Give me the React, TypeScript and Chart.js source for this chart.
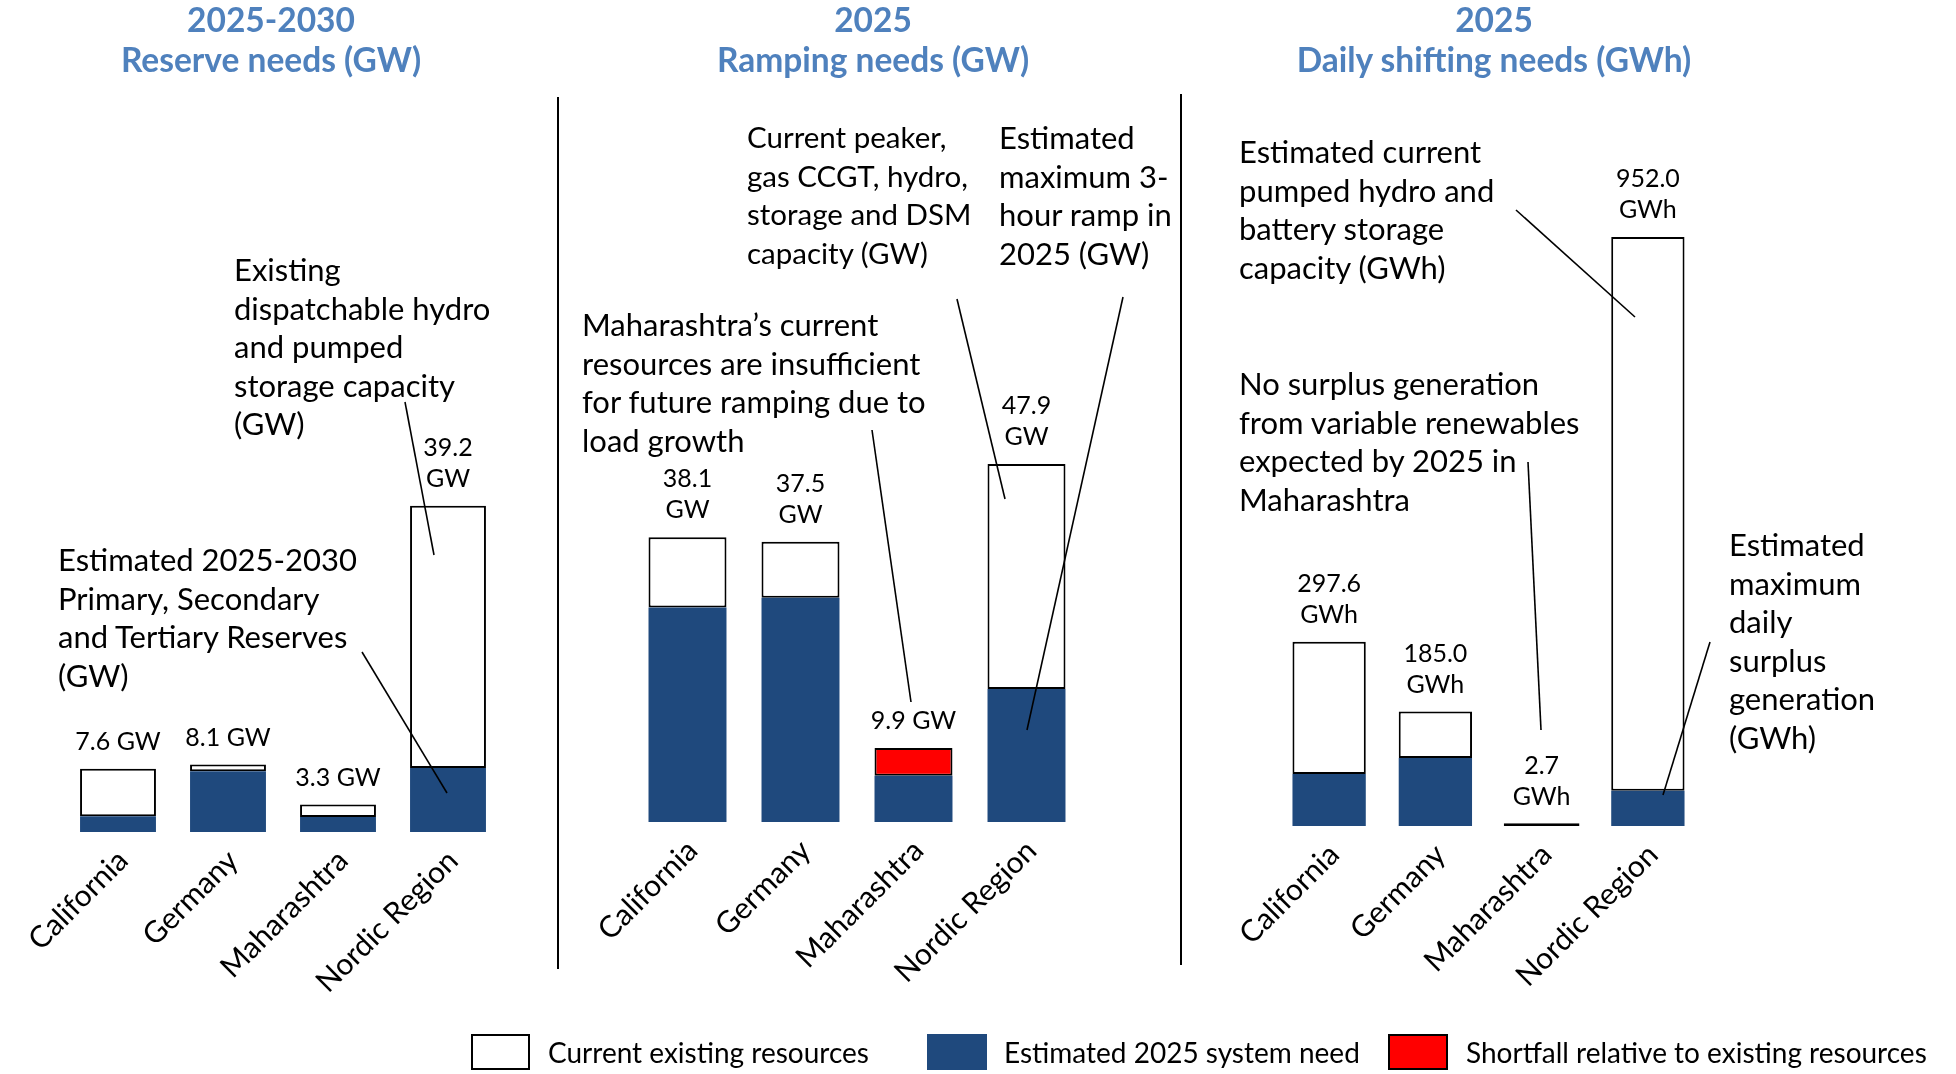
import React, { useEffect, useRef } from "react";
import { Chart, registerables } from "chart.js";

Chart.register(...registerables);

// ---------- data ----------
const categories = ["California", "Germany", "Maharashtra", "Nordic Region"];

// Panel 1: 2025-2030 Reserve needs (GW)
const reserveExisting = [7.6, 8.1, 3.3, 39.2];
const reserveNeed = [1.9, 7.3, 1.8, 7.7];
const reserveLabels = ["7.6 GW", "8.1 GW", "3.3 GW", "39.2\nGW"];

// Panel 2: 2025 Ramping needs (GW)
const rampExisting = [38.1, 37.5, 6.2, 47.9];
const rampNeed = [28.7, 30.0, 9.9, 17.8];
const rampLabels = ["38.1\nGW", "37.5\nGW", "9.9 GW", "47.9\nGW"];

// Panel 3: 2025 Daily shifting needs (GWh)
const shiftExisting = [297.6, 185.0, 2.7, 952.0];
const shiftNeed = [84, 110, 0, 57];
const shiftLabels = ["297.6\nGWh", "185.0\nGWh", "2.7\nGWh", "952.0\nGWh"];

const legendItems = [
  "Current existing resources",
  "Estimated 2025 system need",
  "Shortfall relative to existing resources",
];

// ---------- styles ----------
const FONT = "Lato, 'Open Sans', sans-serif";
const BLUE = "#1f497d";
const RED = "#ff0000";
const TITLE_BLUE = "#4f81bd";

const valueLabelPlugin = {
  id: "valueLabels",
  afterDatasetsDraw(chart: any, _args: any, opts: any) {
    const { ctx } = chart;
    const meta = chart.getDatasetMeta(0);
    const yScale = chart.scales.y;
    ctx.save();
    ctx.font = `${opts.size}px ${FONT}`;
    ctx.fillStyle = "#000";
    ctx.textAlign = "center";
    ctx.textBaseline = "middle";
    opts.tops.forEach((v: number, i: number) => {
      const x = meta.data[i].x;
      const yTop = yScale.getPixelForValue(v);
      const lines = String(opts.labels[i]).split("\n");
      lines.forEach((ln: string, k: number) => {
        const y = yTop - opts.gap - (lines.length - 1 - k) * opts.lineH;
        ctx.fillText(ln, x, y);
      });
    });
    ctx.restore();
  },
};

const PAD_L = 140;
const PAD_R = 30;
const AXIS_H = 210;

function buildConfig(existing: number[], need: number[], labels: string[], yMax: number) {
  const base = existing.map((e, i) => Math.min(e, need[i]));
  const spare = existing.map((e, i) => Math.max(e - need[i], 0));
  const short = existing.map((e, i) => Math.max(need[i] - e, 0));
  const tops = existing.map((e, i) => Math.max(e, need[i]));
  const isThin = (c: any) => c.raw > 0 && c.raw / yMax < 0.005;
  return {
    type: "bar",
    data: {
      labels: categories,
      datasets: [
        { label: legendItems[1], data: base, backgroundColor: BLUE, borderWidth: 0 },
        {
          label: legendItems[0],
          data: spare,
          backgroundColor: (c: any) => (isThin(c) ? "#000000" : "#ffffff"),
          borderColor: "#000000",
          borderWidth: 2,
          borderSkipped: false,
          inflateAmount: (c: any) => (isThin(c) ? 1.2 : 0),
        },
        {
          label: legendItems[2],
          data: short,
          backgroundColor: RED,
          borderColor: "#000000",
          borderWidth: 2,
          borderSkipped: false,
        },
      ],
    },
    options: {
      responsive: false,
      animation: false,
      devicePixelRatio: 1,
      layout: { padding: { left: PAD_L, right: PAD_R, top: 0, bottom: 0 } },
      datasets: { bar: { categoryPercentage: 0.69, barPercentage: 1.0 } },
      plugins: {
        legend: { display: false },
        tooltip: { enabled: false },
        valueLabels: { tops, labels, gap: 27, lineH: 31, size: 25 },
      },
      scales: {
        x: {
          stacked: true,
          grid: { display: false },
          border: { display: false },
          ticks: {
            minRotation: 45,
            maxRotation: 45,
            padding: 3,
            labelOffset: 5,
            color: "#000",
            font: { family: FONT, size: 30 },
          },
          afterFit: (scale: any) => {
            scale.height = AXIS_H;
          },
        },
        y: { stacked: true, display: false, min: 0, max: yMax },
      },
    },
    plugins: [valueLabelPlugin],
  };
}

function Panel(props: {
  areaLeft: number;
  areaRight: number;
  baseline: number;
  existing: number[];
  need: number[];
  labels: string[];
  yMax: number;
}) {
  const ref = useRef<HTMLCanvasElement>(null);
  const width = PAD_L + (props.areaRight - props.areaLeft) + PAD_R;
  const height = props.baseline + AXIS_H;
  const left = props.areaLeft - PAD_L;
  useEffect(() => {
    const chart = new Chart(ref.current as HTMLCanvasElement, buildConfig(
      props.existing,
      props.need,
      props.labels,
      props.yMax
    ) as any);
    return () => chart.destroy();
  }, []);
  return (
    <canvas
      ref={ref}
      width={width}
      height={height}
      style={{ position: "absolute", left, top: 0, width, height }}
    />
  );
}

function Text(props: { left: number; top: number; text: string; size?: number; lh?: number }) {
  return (
    <div
      style={{
        position: "absolute",
        left: props.left,
        top: props.top,
        whiteSpace: "pre",
        fontFamily: FONT,
        fontSize: props.size ?? 31,
        lineHeight: `${props.lh ?? 38.6}px`,
        color: "#000",
      }}
    >
      {props.text}
    </div>
  );
}

function Title(props: { cx: number; line1: string; line2: string }) {
  return (
    <div
      style={{
        position: "absolute",
        left: props.cx - 300,
        top: -1,
        width: 600,
        textAlign: "center",
        fontFamily: FONT,
        fontWeight: 700,
        fontSize: 33.5,
        lineHeight: "40px",
        color: TITLE_BLUE,
        whiteSpace: "pre",
      }}
    >
      {props.line1 + "\n" + props.line2}
    </div>
  );
}

const leaderLines: [number, number, number, number][] = [
  [405, 402, 434, 555],
  [362, 652, 447, 793],
  [957, 299, 1005, 499],
  [1123, 297, 1027, 730],
  [872, 430, 911, 702],
  [1516, 210, 1635, 317],
  [1528, 462, 1541, 730],
  [1710, 642, 1663, 795],
];

export default function App() {
  return (
    <div
      style={{
        position: "absolute",
        left: 0,
        top: 0,
        width: 1956,
        height: 1074,
        overflow: "hidden",
        background: "#fff",
      }}
    >
      <Panel areaLeft={63} areaRight={503} baseline={832} existing={reserveExisting} need={reserveNeed} labels={reserveLabels} yMax={100} />
      <Panel areaLeft={630.5} areaRight={1082.5} baseline={822} existing={rampExisting} need={rampNeed} labels={rampLabels} yMax={110} />
      <Panel areaLeft={1276} areaRight={1701} baseline={826} existing={shiftExisting} need={shiftNeed} labels={shiftLabels} yMax={1335} />

      <svg width={1956} height={1074} style={{ position: "absolute", left: 0, top: 0, pointerEvents: "none" }}>
        <line x1={558} y1={97} x2={558} y2={969} stroke="#000" strokeWidth={2} />
        <line x1={1181} y1={94} x2={1181} y2={965} stroke="#000" strokeWidth={2} />
        {leaderLines.map((l, i) => (
          <line key={i} x1={l[0]} y1={l[1]} x2={l[2]} y2={l[3]} stroke="#000" strokeWidth={1.6} />
        ))}
      </svg>

      <Title cx={271} line1="2025-2030" line2="Reserve needs (GW)" />
      <Title cx={873} line1="2025" line2="Ramping needs (GW)" />
      <Title cx={1494} line1="2025" line2="Daily shifting needs (GWh)" />

      <Text left={234} top={250} text={"Existing\ndispatchable hydro\nand pumped\nstorage capacity\n(GW)"} />
      <Text left={58} top={540} text={"Estimated 2025-2030\nPrimary, Secondary\nand Tertiary Reserves\n(GW)"} />
      <Text left={747} top={118} size={29.5} text={"Current peaker,\ngas CCGT, hydro,\nstorage and DSM\ncapacity (GW)"} />
      <Text left={999} top={118} text={"Estimated\nmaximum 3-\nhour ramp in\n2025 (GW)"} />
      <Text left={582} top={305} text={"Maharashtra\u2019s current\nresources are insufficient\nfor future ramping due to\nload growth"} />
      <Text left={1239} top={132} text={"Estimated current\npumped hydro and\nbattery storage\ncapacity (GWh)"} />
      <Text left={1239} top={364} text={"No surplus generation\nfrom variable renewables\nexpected by 2025 in\nMaharashtra"} />
      <Text left={1729} top={525} text={"Estimated\nmaximum\ndaily\nsurplus\ngeneration\n(GWh)"} />

      {/* legend */}
      <div style={{ position: "absolute", left: 471, top: 1034, width: 55, height: 32, border: "2px solid #000", background: "#fff" }} />
      <Text left={548} top={1033} size={28} lh={38} text={legendItems[0]} />
      <div style={{ position: "absolute", left: 927, top: 1034, width: 60, height: 36, background: BLUE }} />
      <Text left={1004} top={1033} size={28} lh={38} text={legendItems[1]} />
      <div style={{ position: "absolute", left: 1388, top: 1034, width: 56, height: 32, border: "2px solid #000", background: RED }} />
      <Text left={1466} top={1033} size={28} lh={38} text={legendItems[2]} />
    </div>
  );
}
